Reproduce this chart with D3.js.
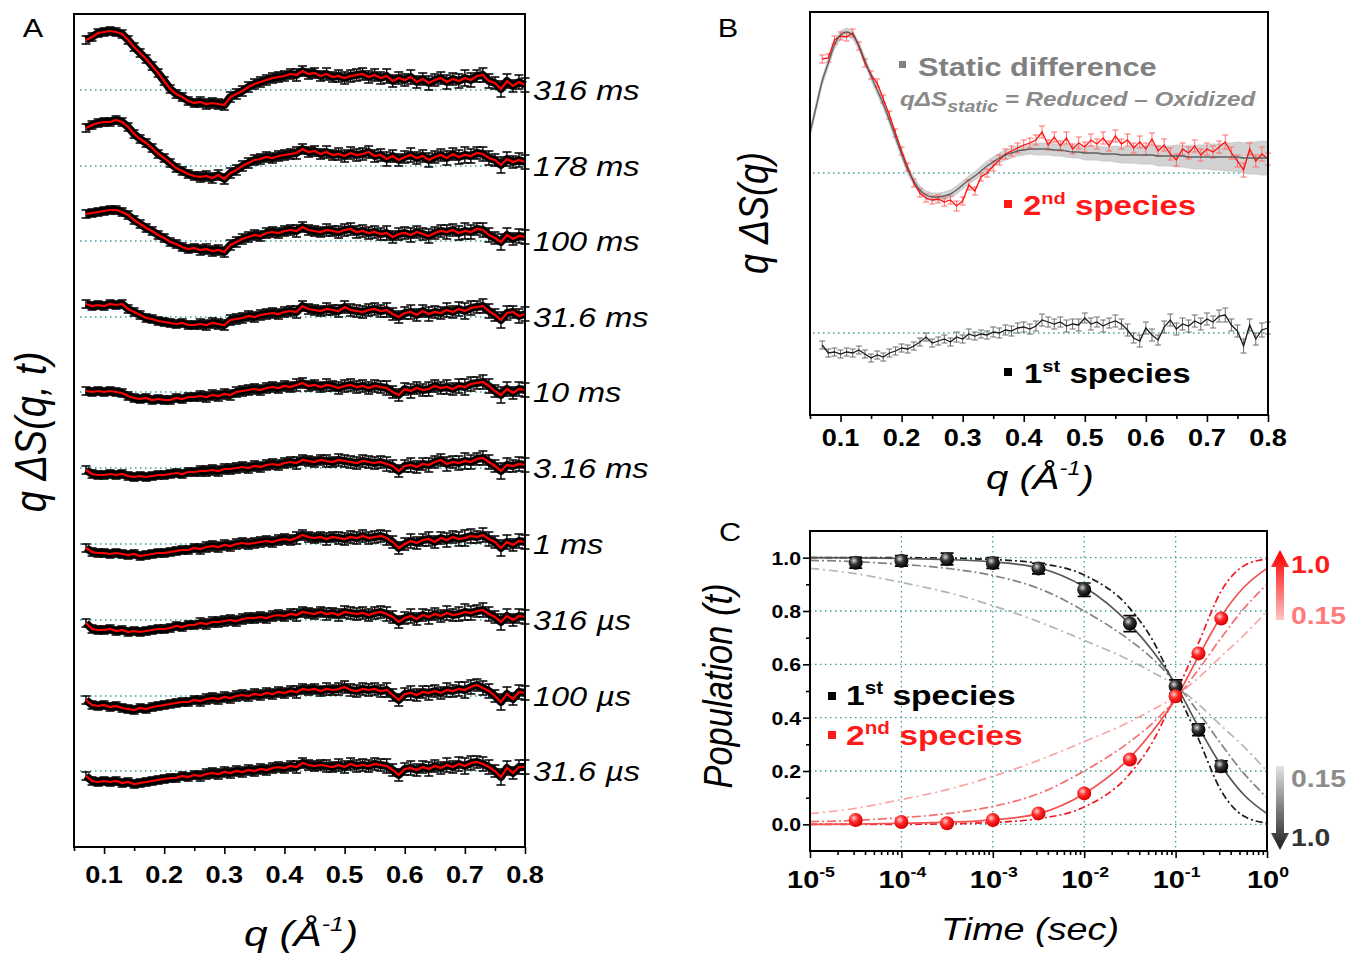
<!DOCTYPE html>
<html>
<head>
<meta charset="utf-8">
<script src="https://cdn.jsdelivr.net/npm/d3@7"></script>
<style>
  body { margin: 0; background: #fff; }
  svg { display: block; }
  text { font-family: "Liberation Sans", Arial, Helvetica, sans-serif; }
</style>
</head>
<body>
<div id="chart"></div>
<script>
// ---------------- data ----------------
// panel A : q grid (1/Å) and time-resolved difference curves (a.u., offset per delay)
const qA = [0.07,0.08,0.09,0.10,0.11,0.12,0.13,0.14,0.15,0.16,
            0.17,0.18,0.19,0.20,0.21,0.22,0.23,0.24,0.25,0.26,
            0.27,0.28,0.29,0.30,0.31,0.32,0.33,0.34,0.35,0.36,
            0.37,0.38,0.39,0.40,0.41,0.42,0.43,0.44,0.45,0.46,
            0.47,0.48,0.49,0.50,0.51,0.52,0.53,0.54,0.55,0.56,
            0.57,0.58,0.59,0.60,0.61,0.62,0.63,0.64,0.65,0.66,
            0.67,0.68,0.69,0.70,0.71,0.72,0.73,0.74,0.75,0.76,
            0.77,0.78,0.79,0.80];
const delaysA = ["316 ms","178 ms","100 ms","31.6 ms","10 ms","3.16 ms","1 ms","316 µs","100 µs","31.6 µs"];
const offsetsA = [681,605,530,454,379,303,227,151,75,0];

const a316ms = [50,53,57,58,59,58,56,50,43,37, 31,24,17,9,1,-4,-7,-11,-13,-12, -14,-13,-14,-15,-7,-4,-1,3,6,8,
  10,12,13,14,16,15,19,16,17,14, 16,13,14,12,14,15,16,13,15,12, 14,9,12,10,13,8,11,7,10,12, 8,11,9,12,10,14,15,9,7,1, 9,4,8,5];
const a178ms = [38,41,43,44,44,46,44,39,32,27, 23,18,12,8,3,-2,-5,-8,-10,-11, -10,-12,-9,-13,-7,-4,0,3,6,7,
  9,8,10,11,12,13,17,14,15,12, 14,11,12,10,13,11,12,14,10,11, 7,10,6,9,11,8,10,6,9,11, 8,12,9,11,10,13,12,8,6,1, 7,4,6,4];
const a100ms = [27,28,29,30,31,31,29,26,21,17, 13,10,6,3,-1,-3,-6,-8,-7,-9, -8,-10,-9,-11,-4,-1,2,4,6,5,
  8,9,8,10,11,10,14,11,10,9, 11,10,9,11,12,9,10,8,9,7, 8,4,7,8,6,9,7,5,8,10, 9,11,8,10,9,12,11,6,3,-1, 6,2,5,4];
const a31ms = [13,11,12,11,13,12,13,8,5,2, -1,-2,-4,-5,-6,-7,-6,-8,-8,-7, -8,-6,-7,-8,-3,-2,-1,1,0,2,
  3,4,3,5,6,5,11,8,7,6, 8,7,6,10,7,6,5,7,8,6, 7,3,0,4,5,2,6,3,5,4, 7,5,8,6,9,10,11,6,2,-3, 4,5,1,3];
const a10ms = [1,0,1,0,1,0,-1,-4,-6,-7, -6,-8,-7,-8,-8,-6,-7,-5,-5,-4, -5,-3,-4,-2,-3,0,1,2,3,2,
  4,5,4,6,5,7,9,6,7,5, 7,6,4,6,7,5,6,4,6,5, 4,0,-3,3,1,4,2,3,6,4, 5,3,6,5,8,9,10,6,1,-3, 3,-1,3,2];
const a3ms = [-2,-6,-7,-7,-6,-7,-6,-8,-9,-8, -9,-8,-7,-7,-6,-5,-6,-4,-4,-3, -3,-2,-3,-1,-1,0,1,0,2,1,
  3,4,3,5,6,5,8,7,6,8, 7,6,8,7,6,5,7,6,5,6, 4,2,-3,2,3,1,4,3,6,8, 4,6,5,7,6,9,10,6,2,-3, 3,2,4,3];
const a1ms = [-4,-8,-9,-9,-10,-9,-10,-11,-10,-12, -11,-10,-9,-9,-8,-7,-6,-6,-4,-5, -3,-2,-3,-1,-2,0,1,0,1,2,
  3,2,4,5,4,6,9,7,6,7, 5,7,6,5,7,6,8,6,7,8, 6,2,-4,0,3,1,4,5,2,6, 4,7,5,6,8,7,9,5,2,-4, 2,-1,3,2];
const a316us = [-3,-9,-10,-10,-9,-11,-10,-12,-11,-12, -11,-10,-9,-9,-8,-6,-7,-5,-5,-3, -4,-2,-2,-1,0,-1,1,2,2,3,
  2,4,5,4,6,5,8,7,6,8, 6,7,5,8,7,6,7,5,7,8, 6,3,-2,2,4,1,5,3,6,4, 7,5,6,8,7,9,10,6,3,-2, 4,0,4,3];
const a100us = [-4,-9,-10,-9,-11,-10,-12,-13,-14,-12, -13,-11,-10,-9,-8,-7,-6,-6,-4,-5, -3,-2,-3,-1,-2,0,1,0,2,1,
  3,2,4,3,5,4,7,6,7,5, 7,6,7,9,6,5,7,6,7,5, 6,1,-4,2,3,1,4,3,5,3, 6,5,7,6,9,11,8,5,0,-6, 2,-3,4,3];
const a31us = [-5,-10,-11,-10,-11,-10,-12,-11,-13,-12, -11,-10,-9,-8,-7,-7,-5,-6,-4,-5, -3,-2,-3,-1,-2,0,-1,1,0,2,
  1,3,4,3,5,4,8,6,5,6, 5,4,6,4,7,5,6,5,7,6, 5,1,-4,2,3,1,4,2,5,3, 6,4,7,5,8,9,7,4,0,-6, 3,-2,4,4];
const tracesA = [a316ms, a178ms, a100ms, a31ms, a10ms, a3ms, a1ms, a316us, a100us, a31us];
const errA = [3,3,3,3,3,3,3,3,3,3, 3,3,3,3,3,3,3,3,3,4, 4,4,4,4,4,4,4,4,4,4,
  4,4,4,4,4,5,4,4,4,4, 5,4,5,5,5,5,5,5,5,5, 6,5,5,5,6,5,5,6,5,5, 6,5,6,7,6,5,6,6,5,7, 6,5,6,6];
const ticksA = [0.1,0.2,0.3,0.4,0.5,0.6,0.7,0.8];

// panel B : species difference curves
const qStatic = [0.05,0.06].concat(qA);
const staticB = [40,66,92,110,128,138,141,138,127,112, 97,83,69,53,36,19,3,-8,-17,-22,
  -24,-24,-23,-21,-17,-12,-7,-3,2,7, 11,15,18,20,22,23,24,24,24,24, 23,23,22,21,21,20,20,20,19,19,
  19,18,18,18,18,18,18,17,17,17, 17,17,16,16,16,16,16,16,16,16, 16,15,15,15,15,15];
const bandB = [4,4,4,4,4,4,4,4,4,4, 4,4,4,4,4,4,4,4,4,4, 4,4,4,4,4,4,4,4,5,5, 5,5,5,5,5,5,5,6,6,6,
  6,6,6,6,6,7,7,7,7,7, 8,8,8,8,9,9,9,10,10,10, 11,11,11,12,12,12,13,13,14,14, 15,15,16,16,17,17];
const species2B = [114,115,133,137,136,140,127,110,98,90, 74,58,40,22,6,-10,-20,-25,-27,-26,
  -29,-27,-33,-28,-12,-18,-4,0,7,13, 19,22,25,28,30,33,41,28,36,27, 35,24,30,26,33,29,35,27,37,29,
  33,25,31,24,34,22,28,19,13,24, 20,27,18,24,21,26,31,20,12,3, 24,12,19,14];
const species1B = [-12,-20,-19,-21,-19,-20,-17,-21,-25,-22, -24,-20,-18,-15,-16,-13,-9,-4,-10,-8,
  -6,-9,-4,-6,-1,-3,-1,-2,1,0, 3,2,5,6,4,7,13,11,9,11, 7,9,8,15,9,11,7,10,12,9,
  3,-5,-8,5,-2,-7,6,13,4,9, 7,12,9,14,11,17,18,8,2,-13, 8,-6,3,5];
const errB = [4,4,4,4,4,4,4,4,4,4, 4,4,4,4,4,4,4,4,4,4, 4,4,5,4,5,4,4,4,5,5,
  5,5,5,5,5,5,6,5,5,5, 6,5,6,5,6,5,6,5,6,5, 6,5,6,6,6,5,6,6,6,6, 6,6,6,6,6,6,7,6,6,7, 6,6,7,6];
const offset2B = 160, offset1B = 0;

// panel C : populations
const tPts = [3.16e-5,1e-4,3.16e-4,1e-3,3.16e-3,1e-2,3.16e-2,1e-1,1.78e-1,3.16e-1];
const pop1 = [0.981,0.988,0.995,0.980,0.959,0.880,0.753,0.517,0.355,0.218];
const err1 = [0.02,0.02,0.022,0.02,0.02,0.025,0.03,0.025,0.022,0.02];
const pop2 = [0.016,0.009,0.004,0.016,0.041,0.116,0.243,0.480,0.641,0.772];
const err2 = [0.008,0.008,0.008,0.008,0.008,0.01,0.01,0.012,0.01,0.01];
const tCurve = [1e-5,3.16e-5,1e-4,3.16e-4,1e-3,3.16e-3,1e-2,3.16e-2,5.62e-2,1e-1,1.78e-1,3.16e-1,5.62e-1,1];
const fit1   = [1.0,0.999,0.997,0.993,0.984,0.962,0.89,0.75,0.65,0.525,0.365,0.22,0.11,0.04];
const beta1a = [1.0,1.0,1.0,0.998,0.993,0.979,0.935,0.81,0.69,0.51,0.32,0.125,0.03,0.005];
const beta1b = [0.99,0.985,0.975,0.96,0.933,0.885,0.80,0.69,0.62,0.53,0.42,0.30,0.19,0.10];
const beta1c = [0.96,0.94,0.907,0.87,0.82,0.76,0.69,0.615,0.57,0.52,0.45,0.37,0.29,0.20];
const fit2   = [0.0,0.001,0.004,0.008,0.017,0.04,0.115,0.25,0.35,0.47,0.63,0.78,0.89,0.96];
const beta2a = [0.0,0.0,0.0,0.002,0.007,0.021,0.065,0.19,0.31,0.49,0.68,0.875,0.97,0.995];
const beta2b = [0.01,0.015,0.025,0.04,0.067,0.115,0.2,0.31,0.38,0.47,0.58,0.70,0.81,0.90];
const beta2c = [0.04,0.06,0.093,0.13,0.18,0.24,0.31,0.385,0.43,0.48,0.55,0.63,0.71,0.80];
const yTicksC = [0.0,0.2,0.4,0.6,0.8,1.0];
const yMinorC = [0.1,0.3,0.5,0.7,0.9];
const decadesC = [1e-5,1e-4,1e-3,1e-2,1e-1,1];
const decadeLabels = ["-5","-4","-3","-2","-1","0"];

// ---------------- drawing ----------------
const W = 1347, H = 957, SX = 1.18;
const TEAL = "#3d9b9b";

const svg = d3.select("#chart").append("svg").attr("width", W).attr("height", H);
const defs = svg.append("defs");

// text helper: figure text is slightly stretched horizontally
function txt(g, x, y, parts, o) {
  o = o || {};
  const t = g.append("text")
    .attr("transform", `translate(${x},${y}) scale(${SX},1)` + (o.rot ? " rotate(-90)" : ""))
    .attr("text-anchor", o.anchor || "start")
    .attr("fill", o.color || "#000")
    .style("font-size", (o.size || 20) + "px")
    .style("font-weight", o.bold ? "bold" : "normal")
    .style("font-style", o.italic ? "italic" : "normal");
  if (typeof parts === "string") parts = [{t: parts}];
  parts.forEach(p => {
    const s = t.append("tspan").text(p.t);
    if (p.size) s.style("font-size", p.size + "px");
    if (p.dy) s.attr("dy", p.dy);
  });
  return t;
}

function errorBars(g, pts, color, cap, width) {
  g.append("g").attr("stroke", color).attr("stroke-width", width).attr("fill", "none")
    .selectAll("path").data(pts).join("path")
    .attr("d", d => `M${d.x},${d.lo}V${d.hi}M${d.x - cap},${d.hi}h${2 * cap}M${d.x - cap},${d.lo}h${2 * cap}`);
}

function frame(g, b) {
  g.append("rect").attr("x", b.l).attr("y", b.t).attr("width", b.r - b.l).attr("height", b.b - b.t)
    .attr("fill", "none").attr("stroke", "#000").attr("stroke-width", 2);
}

function bottomTicks(g, scale, y, major, minor) {
  const ax = g.append("g").attr("transform", `translate(0,${y})`);
  ax.call(d3.axisBottom(scale).tickValues(major).tickSize(7).tickFormat(""));
  ax.append("g").call(d3.axisBottom(scale).tickValues(minor).tickSize(4).tickFormat(""));
  ax.selectAll(".domain").remove();
  ax.selectAll("line").attr("stroke", "#000").attr("stroke-width", 1.6);
}

// ===== panel A =====
const A = {l: 74, r: 525, t: 14, b: 847};
const xA = d3.scaleLinear().domain([0.05, 0.8]).range([A.l, A.r]);
const yA = d3.scaleLinear().domain([-76, 757]).range([A.b, A.t]);
const gA = svg.append("g");

tracesA.forEach((tr, i) => {
  const off = offsetsA[i];
  const pts = qA.map((q, j) => ({q: q, v: tr[j] + off, e: errA[j] + 1}));
  const line = d3.line().x(d => xA(d.q)).y(d => yA(d.v));
  gA.append("line").attr("x1", xA(0.06)).attr("x2", xA(0.795))
    .attr("y1", yA(off)).attr("y2", yA(off))
    .attr("stroke", TEAL).attr("stroke-width", 1.5).attr("stroke-dasharray", "1.5,3.5");
  gA.append("path").datum(pts).attr("d", line).attr("fill", "none")
    .attr("stroke", "#000").attr("stroke-width", 8).attr("stroke-linejoin", "round");
  errorBars(gA, pts.map(d => ({x: xA(d.q), lo: yA(d.v - d.e), hi: yA(d.v + d.e)})), "#000", 4.5, 1.4);
  gA.append("path").datum(pts).attr("d", line).attr("fill", "none")
    .attr("stroke", "#ff0000").attr("stroke-width", 2.2);
  txt(gA, 533, yA(off) + 10, delaysA[i], {size: 27.5, italic: true});
});

frame(gA, A);
bottomTicks(gA, xA, A.b, ticksA, ticksA.map(v => v - 0.05));
ticksA.forEach(v => txt(gA, xA(v), 883, v.toFixed(1), {size: 23, bold: true, anchor: "middle"}));
txt(gA, 301, 946, [{t: "q (Å"}, {t: "-1", size: 21, dy: -15}, {t: ")", dy: 15}], {size: 36, italic: true, anchor: "middle"});
txt(gA, 46, 432, "q ΔS(q, t)", {size: 38, italic: true, anchor: "middle", rot: true});
txt(gA, 33, 37, "A", {size: 26, anchor: "middle"});

// ===== panel B =====
const B = {l: 810, r: 1268, t: 12, b: 415};
const xB = d3.scaleLinear().domain([0.05, 0.8]).range([B.l, B.r]);
const yB = d3.scaleLinear().domain([-82, 321]).range([B.b, B.t]);
const gB = svg.append("g");

[offset2B, offset1B].forEach(off => {
  gB.append("line").attr("x1", xB(0.055)).attr("x2", xB(0.8))
    .attr("y1", yB(off)).attr("y2", yB(off))
    .attr("stroke", TEAL).attr("stroke-width", 1.5).attr("stroke-dasharray", "1.5,3.5");
});

const stPts = qStatic.map((q, j) => ({q: q, v: staticB[j] + offset2B, e: bandB[j]}));
gB.append("path").datum(stPts)
  .attr("d", d3.area().x(d => xB(d.q)).y0(d => yB(d.v - d.e)).y1(d => yB(d.v + d.e)))
  .attr("fill", "#d2d2d2").attr("stroke", "#c4c4c4").attr("stroke-width", 0.8);

const lineB = d3.line().x(d => xB(d.q)).y(d => yB(d.v));
const sp2 = qA.map((q, j) => ({q: q, v: species2B[j] + offset2B, e: errB[j]}));
errorBars(gB, sp2.map(d => ({x: xB(d.q), lo: yB(d.v - d.e), hi: yB(d.v + d.e)})), "#ff6d6d", 3, 1);
gB.append("path").datum(sp2).attr("d", lineB).attr("fill", "none")
  .attr("stroke", "#ff1010").attr("stroke-width", 1.3);

gB.append("path").datum(stPts).attr("d", lineB.curve(d3.curveMonotoneX)).attr("fill", "none")
  .attr("stroke", "#4d4d4d").attr("stroke-width", 1.4).attr("opacity", 0.85);

const sp1 = qA.map((q, j) => ({q: q, v: species1B[j] + offset1B, e: errB[j]}));
errorBars(gB, sp1.map(d => ({x: xB(d.q), lo: yB(d.v - d.e), hi: yB(d.v + d.e)})), "#6e6e6e", 3, 1);
gB.append("path").datum(sp1).attr("d", d3.line().x(d => xB(d.q)).y(d => yB(d.v))).attr("fill", "none")
  .attr("stroke", "#1a1a1a").attr("stroke-width", 1.3);

frame(gB, B);
bottomTicks(gB, xB, B.b, ticksA, ticksA.map(v => v - 0.05));
ticksA.forEach(v => txt(gB, xB(v), 446, v.toFixed(1), {size: 23, bold: true, anchor: "middle"}));
txt(gB, 1040, 489, [{t: "q (Å"}, {t: "-1", size: 20, dy: -14}, {t: ")", dy: 14}], {size: 34, italic: true, anchor: "middle"});
txt(gB, 768, 213, "q ΔS(q)", {size: 36, italic: true, anchor: "middle", rot: true});
txt(gB, 728, 37, "B", {size: 26, anchor: "middle"});

// legend texts in B
gB.append("rect").attr("x", 899).attr("y", 61).attr("width", 7).attr("height", 7).attr("fill", "#808080");
txt(gB, 918, 76, "Static difference", {size: 26, bold: true, color: "#808080"});
txt(gB, 900, 106, [{t: "qΔS"}, {t: "static", size: 16.5, dy: 6}, {t: " = Reduced  – Oxidized", dy: -6}],
  {size: 20.5, bold: true, italic: true, color: "#8a8a8a"});
gB.append("rect").attr("x", 1004).attr("y", 200).attr("width", 8).attr("height", 8).attr("fill", "#ff1a1a");
txt(gB, 1023, 215, [{t: "2"}, {t: "nd", size: 17, dy: -11}, {t: " species", dy: 11}], {size: 28, bold: true, color: "#ff1a1a"});
gB.append("rect").attr("x", 1004).attr("y", 368).attr("width", 8).attr("height", 8).attr("fill", "#000");
txt(gB, 1024, 383, [{t: "1"}, {t: "st", size: 17, dy: -11}, {t: " species", dy: 11}], {size: 28, bold: true, color: "#000"});

// ===== panel C =====
const C = {l: 810, r: 1267, t: 531, b: 851};
const xC = d3.scaleLog().domain([1e-5, 1]).range([C.l, C.r]);
const yC = d3.scaleLinear().domain([-0.1, 1.1]).range([C.b, C.t]);
const gC = svg.append("g");

// dotted grid
yTicksC.forEach(v => gC.append("line").attr("x1", C.l).attr("x2", C.r).attr("y1", yC(v)).attr("y2", yC(v))
  .attr("stroke", TEAL).attr("stroke-width", 1.3).attr("stroke-dasharray", "1.5,3.5"));
decadesC.slice(1, 5).forEach(v => gC.append("line").attr("x1", xC(v)).attr("x2", xC(v)).attr("y1", C.t).attr("y2", C.b)
  .attr("stroke", TEAL).attr("stroke-width", 1.3).attr("stroke-dasharray", "1.5,3.5"));

const curveLine = d3.line().x(d => xC(d.t)).y(d => yC(d.v)).curve(d3.curveMonotoneX);
const curves = [
  {v: beta1c, c: "#b4b4b4", dash: "9,4,2,4"},
  {v: beta1b, c: "#828282", dash: "9,3,2,3"},
  {v: beta1a, c: "#1a1a1a", dash: "7,3,2,3"},
  {v: fit1,   c: "#555555", dash: null},
  {v: beta2c, c: "#f9a5a5", dash: "9,4,2,4"},
  {v: beta2b, c: "#f37070", dash: "9,3,2,3"},
  {v: beta2a, c: "#ee1c24", dash: "7,3,2,3"},
  {v: fit2,   c: "#f45050", dash: null}
];
curves.forEach(cv => {
  gC.append("path").datum(tCurve.map((t, j) => ({t: t, v: cv.v[j]})))
    .attr("d", curveLine).attr("fill", "none").attr("stroke", cv.c).attr("stroke-width", 1.7)
    .attr("stroke-dasharray", cv.dash);
});

// ball gradients
const gBlack = defs.append("radialGradient").attr("id", "ballBlack").attr("cx", "38%").attr("cy", "35%").attr("r", "65%");
gBlack.append("stop").attr("offset", "0%").attr("stop-color", "#d8d8d8");
gBlack.append("stop").attr("offset", "45%").attr("stop-color", "#333");
gBlack.append("stop").attr("offset", "100%").attr("stop-color", "#000");
const gRed = defs.append("radialGradient").attr("id", "ballRed").attr("cx", "38%").attr("cy", "35%").attr("r", "65%");
gRed.append("stop").attr("offset", "0%").attr("stop-color", "#ffd0d0");
gRed.append("stop").attr("offset", "45%").attr("stop-color", "#ff2a2a");
gRed.append("stop").attr("offset", "100%").attr("stop-color", "#d80000");

errorBars(gC, tPts.map((t, j) => ({x: xC(t), lo: yC(pop1[j] - err1[j]), hi: yC(pop1[j] + err1[j])})), "#000", 6.5, 1.7);
errorBars(gC, tPts.map((t, j) => ({x: xC(t), lo: yC(pop2[j] - err2[j]), hi: yC(pop2[j] + err2[j])})), "#ff3030", 5, 1.4);
gC.append("g").selectAll("circle").data(tPts).join("circle")
  .attr("cx", d => xC(d)).attr("cy", (d, j) => yC(pop1[j])).attr("r", 7).attr("fill", "url(#ballBlack)");
gC.append("g").selectAll("circle").data(tPts).join("circle")
  .attr("cx", d => xC(d)).attr("cy", (d, j) => yC(pop2[j])).attr("r", 7).attr("fill", "url(#ballRed)");

frame(gC, C);
// axes
const axCx = gC.append("g").attr("transform", `translate(0,${C.b})`);
axCx.call(d3.axisBottom(xC).tickValues(decadesC).tickSize(7).tickFormat(""));
axCx.append("g").call(d3.axisBottom(xC).tickValues(xC.ticks().filter(t => !decadesC.includes(t))).tickSize(4).tickFormat(""));
axCx.selectAll(".domain").remove();
axCx.selectAll("line").attr("stroke", "#000").attr("stroke-width", 1.6);
const axCy = gC.append("g").attr("transform", `translate(${C.l},0)`);
axCy.call(d3.axisLeft(yC).tickValues(yTicksC).tickSize(7).tickFormat(""));
axCy.append("g").call(d3.axisLeft(yC).tickValues(yMinorC).tickSize(4).tickFormat(""));
axCy.selectAll(".domain").remove();
axCy.selectAll("line").attr("stroke", "#000").attr("stroke-width", 1.6);

yTicksC.forEach(v => txt(gC, 801, yC(v) + 7, v.toFixed(1), {size: 18, bold: true, anchor: "end"}));
decadesC.forEach((v, j) => txt(gC, xC(v) + 1, 888, [{t: "10"}, {t: decadeLabels[j], size: 15, dy: -11}],
  {size: 24.5, bold: true, anchor: "middle"}));
txt(gC, 1030, 940, "Time (sec)", {size: 32, italic: true, anchor: "middle"});
txt(gC, 732, 686, "Population (t)", {size: 34.5, italic: true, anchor: "middle", rot: true});
txt(gC, 730, 541, "C", {size: 26, anchor: "middle"});

// legend in C
gC.append("rect").attr("x", 828).attr("y", 692).attr("width", 8).attr("height", 8).attr("fill", "#000");
txt(gC, 846, 705, [{t: "1"}, {t: "st", size: 17.5, dy: -11}, {t: " species", dy: 11}], {size: 28.5, bold: true, color: "#000"});
gC.append("rect").attr("x", 828).attr("y", 731).attr("width", 8).attr("height", 8).attr("fill", "#ff1a1a");
txt(gC, 846, 745, [{t: "2"}, {t: "nd", size: 17.5, dy: -11}, {t: " species", dy: 11}], {size: 28.5, bold: true, color: "#ff1a1a"});

// beta arrows on the right
const redGrad = defs.append("linearGradient").attr("id", "arrRed").attr("gradientUnits", "userSpaceOnUse")
  .attr("x1", 0).attr("y1", 620).attr("x2", 0).attr("y2", 552);
redGrad.append("stop").attr("offset", "0%").attr("stop-color", "#ffc4c4");
redGrad.append("stop").attr("offset", "100%").attr("stop-color", "#ff0000");
gC.append("path").attr("d", "M1276,620V567H1271L1280,550L1289,567H1284V620Z").attr("fill", "url(#arrRed)");
const grayGrad = defs.append("linearGradient").attr("id", "arrGray").attr("gradientUnits", "userSpaceOnUse")
  .attr("x1", 0).attr("y1", 766).attr("x2", 0).attr("y2", 850);
grayGrad.append("stop").attr("offset", "0%").attr("stop-color", "#e2e2e2");
grayGrad.append("stop").attr("offset", "100%").attr("stop-color", "#1e1e1e");
gC.append("path").attr("d", "M1276,766V833H1271L1280,850L1289,833H1284V766Z").attr("fill", "url(#arrGray)");
txt(gC, 1291, 573, "1.0", {size: 24, bold: true, color: "#ff1a1a"});
txt(gC, 1291, 624, "0.15", {size: 24, bold: true, color: "#ff7b7b"});
txt(gC, 1291, 787, "0.15", {size: 24, bold: true, color: "#8c8c8c"});
txt(gC, 1291, 846, "1.0", {size: 24, bold: true, color: "#333"});
</script>
</body>
</html>
